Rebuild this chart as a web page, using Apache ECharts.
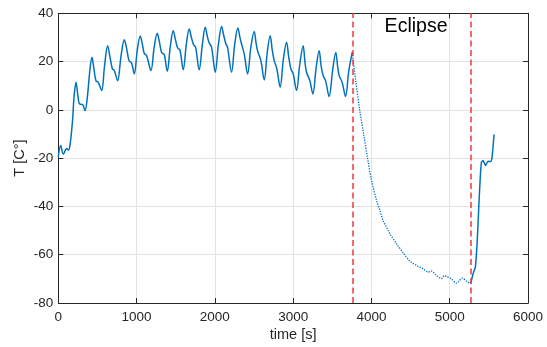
<!DOCTYPE html>
<html>
<head>
<meta charset="utf-8">
<script src="https://cdn.jsdelivr.net/npm/echarts@6/dist/echarts.min.js"></script>
<style>html,body{margin:0;padding:0;background:#fff}#c{width:547px;height:347px}</style>
</head>
<body>
<div id="c"></div>
<script>
// ---- data ----
const preTime = [0,30,64,107,128,150,183,200,226,250,270,311,341,370,405,430,455,481,511,554,590,630,660,690,715,758,800,843,875,903,937,970,1010,1047,1075,1098,1128,1183,1225,1264,1292,1320,1353,1392,1430,1468,1497,1524,1554,1596,1635,1672,1700,1728,1754,1800,1840,1877,1900,1924,1958,2005,2045,2086,2112,2141,2162,2213,2253,2294,2320,2341,2375,2418,2460,2503,2525,2545,2588,2630,2670,2707,2732,2758,2792,2834,2875,2916,2943,2971,3001,3043,3085,3128,3150,3171,3213,3252,3292,3332,3358,3383,3414,3460,3503,3545,3568,3588,3626,3669,3710,3755];
const preTemp = [-19.5,-14.8,-18.4,-16,-16.7,-14.5,-4,5,11.4,6,2.5,2.2,-0.3,5,17,21.8,17,12.1,11.4,8,18,26.6,22,17,16.3,12.1,22,29,25,20.4,19.3,14.9,25,30.6,27,23.4,22.5,16.3,26,31.7,28,23.8,22.9,16,26,32.8,29,25.7,24.8,16.6,27,33.5,30,27,25.9,16.6,27,34.2,31,28,25.9,15.6,27,34.5,31,27.3,25.9,15.6,27,33.9,30,27.3,23.2,14.9,26,32.5,28,24.5,20.4,12.4,24,30.7,25,20.4,17,9.4,21,28,22,17,14.9,8,19,26.6,20,15.6,12.1,6.6,17,24.5,18,14.2,12.1,5.5,16,23.8,18,14.2,11.4,5.5,16,23.8];
const eclTime = [3755,3800,3850,3900,3950,4000,4065,4107,4150,4192,4235,4320,4405,4490,4575,4660,4724,4766,4831,4894,4935,4958,5022,5086,5163,5214,5268];
const eclTemp = [23.8,12,0,-10,-20,-29,-37.5,-41.5,-46,-48.6,-51.3,-55.4,-59.2,-62.6,-64.4,-65.8,-67.2,-66.8,-68.6,-69.9,-68.6,-69,-70,-71.8,-69.7,-71,-72];
const postTime = [5268,5298,5328,5354,5371,5388,5405,5426,5456,5490,5524,5541,5566];
const postTemp = [-72,-68,-65,-52.7,-40.3,-29.3,-21.7,-21,-23,-21.3,-21.4,-19.6,-10.2];
const eclipseBounds = [3762, 5268];
const eclipseLabel = 'Eclipse';
const eclipseLabelPos = [4570, 34.3];
const xTicks = [0,1000,2000,3000,4000,5000,6000];
const yTicks = [-80,-60,-40,-20,0,20,40];
const xName = 'time [s]';
const yName = 'T [C°]';

// ---- chart ----
const zip = (a,b) => a.map((v,i) => [v, b[i]]);
const FONT = '"Liberation Sans", Arial, sans-serif';
const TXT = '#262626';
const BLUE = '#0072BD';
const chart = echarts.init(document.getElementById('c'), null, {renderer:'canvas'});
const baseAxis = {
  axisLine:{show:true, onZero:false, lineStyle:{color:TXT, width:1}},
  axisTick:{show:true, inside:true, length:5, lineStyle:{color:TXT, width:1}},
  splitLine:{show:false}
};
const plain = v => String(v);
chart.setOption({
  animation:false,
  backgroundColor:'#fff',
  grid:{left:58.3, right:19, top:13.3, bottom:43.7, containLabel:false},
  xAxis:[
    Object.assign({}, baseAxis, {
      type:'value', min:xTicks[0], max:xTicks[xTicks.length-1], interval:1000, position:'bottom',
      name:xName, nameLocation:'middle', nameGap:24, nameMoveOverlap:false,
      nameTextStyle:{fontFamily:FONT, fontSize:14.5, color:TXT},
      axisLabel:{fontFamily:FONT, fontSize:13.5, color:TXT, margin:7, formatter:plain},
      splitLine:{show:true, lineStyle:{color:'#e3e3e3', width:1}}
    }),
    Object.assign({}, baseAxis, {
      type:'value', min:xTicks[0], max:xTicks[xTicks.length-1], interval:1000, position:'top',
      axisLabel:{show:false}
    })
  ],
  yAxis:[
    Object.assign({}, baseAxis, {
      type:'value', min:yTicks[0], max:yTicks[yTicks.length-1], interval:20, position:'left',
      name:yName, nameLocation:'middle', nameGap:31, nameRotate:90, nameMoveOverlap:false,
      nameTextStyle:{fontFamily:FONT, fontSize:14.5, color:TXT},
      axisLabel:{fontFamily:FONT, fontSize:13.5, color:TXT, margin:5, formatter:plain},
      splitLine:{show:true, lineStyle:{color:'#e3e3e3', width:1}}
    }),
    Object.assign({}, baseAxis, {
      type:'value', min:yTicks[0], max:yTicks[yTicks.length-1], interval:20, position:'right',
      axisLabel:{show:false}
    })
  ],
  series:[
    {
      type:'line', data:zip(preTime, preTemp), showSymbol:false, smooth:0.35,
      lineStyle:{color:BLUE, width:1.5}, z:3,
      markLine:{
        silent:true, symbol:['none','none'], label:{show:false},
        lineStyle:{color:'#f03a3a', width:1.5, type:[6,3.5]},
        data:eclipseBounds.map(x => ({xAxis:x}))
      },
      markPoint:{
        symbol:'circle', symbolSize:0,
        label:{show:true, formatter:eclipseLabel, fontFamily:FONT, fontSize:19.5, color:'#000', position:'inside'},
        data:[{coord:eclipseLabelPos}]
      }
    },
    {
      type:'line', data:zip(eclTime, eclTemp), showSymbol:false, smooth:0.3,
      lineStyle:{color:BLUE, width:1.3, type:[1.3,1.3]}, z:3
    },
    {
      type:'line', data:zip(postTime, postTemp), showSymbol:false, smooth:0.2,
      lineStyle:{color:BLUE, width:1.5}, z:3
    }
  ]
});
</script>
</body>
</html>
